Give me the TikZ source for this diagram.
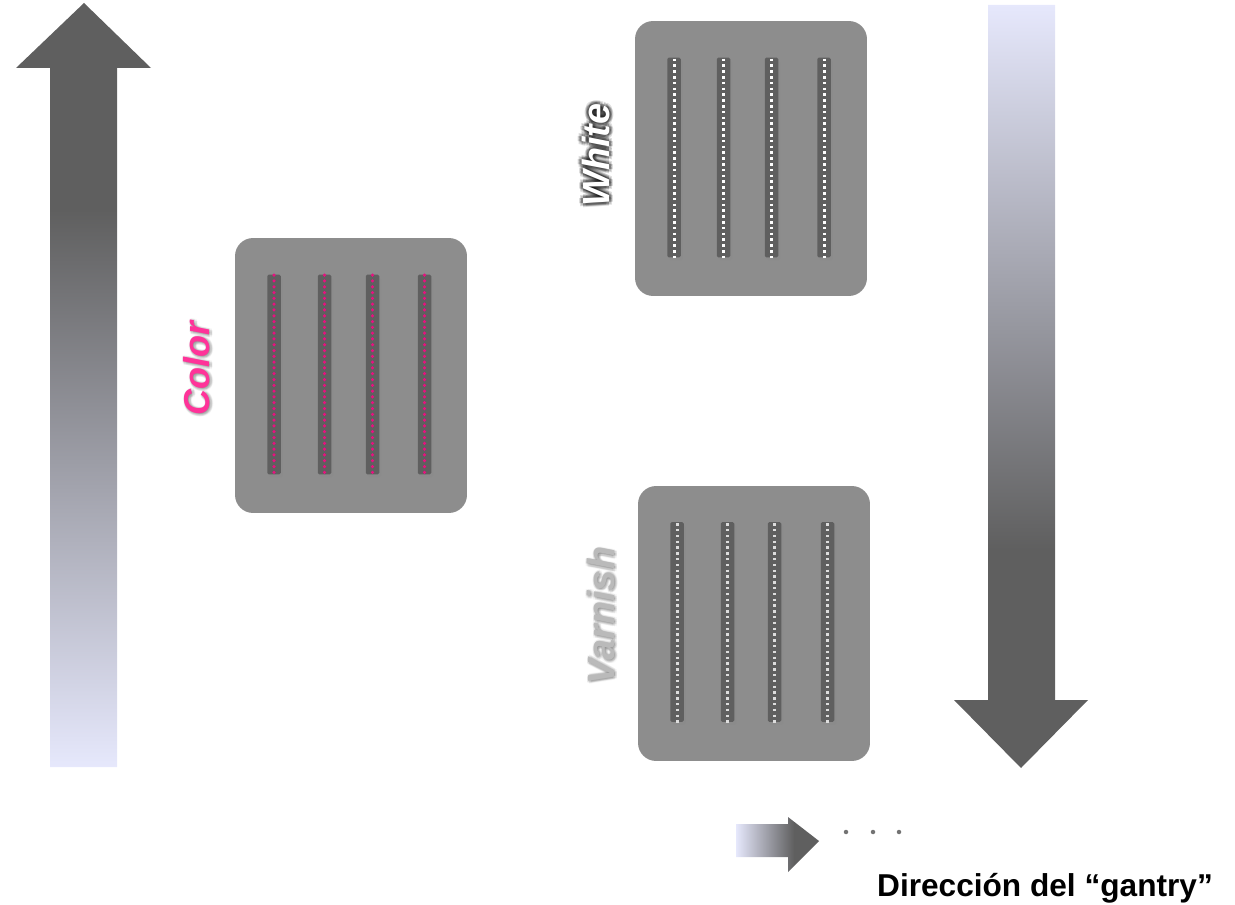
\documentclass[tikz,border=0pt]{standalone}
\usepackage{fontspec}
\setmainfont{Liberation Sans}
\usepackage{xcolor}
\usetikzlibrary{positioning,shadows}
\definecolor{panelgray}{HTML}{8D8D8D}
\definecolor{stripgray}{HTML}{5F5F5F}
\definecolor{palelilac}{HTML}{E6E8FC}
\definecolor{inkpink}{HTML}{E8107F}
\definecolor{labelpink}{HTML}{FF3399}
\pgfdeclareverticalshading{fadeup}{100bp}{color(0bp)=(palelilac); color(25bp)=(palelilac); color(61.5bp)=(stripgray); color(100bp)=(stripgray)}
\pgfdeclareverticalshading{fadedown}{100bp}{color(0bp)=(stripgray); color(39.3bp)=(stripgray); color(75bp)=(palelilac); color(100bp)=(palelilac)}
\pgfdeclarehorizontalshading{faderight}{100bp}{color(0bp)=(palelilac); color(25bp)=(palelilac); color(60bp)=(stripgray); color(100bp)=(stripgray)}

\begin{document}
\begin{tikzpicture}[
  x=0.02cm, y=-0.02cm,
  panel/.style={fill=panelgray, rounded corners=0.36cm, minimum width=4.64cm, minimum height=5.5cm, inner sep=0pt},
  strip/.style={fill=stripgray, rounded corners=0.03cm, minimum width=0.27cm, minimum height=4cm, inner sep=0pt,
    drop shadow={opacity=0.08, shadow xshift=0.04cm, shadow yshift=-0.06cm}},
  nozzles/.style={line width=0.06cm, dash pattern=on 0.05cm off 0.066cm},
  inkdots/.style={line width=0.07cm, line cap=round, dash pattern=on 0pt off 0.116cm},
  headlabel/.style={rotate=90, font=\bfseries\itshape\fontsize{21.5}{21.5}\selectfont},
  gantry/.style={font=\bfseries\fontsize{18}{20}\selectfont}
]
\useasboundingbox (0,0) rectangle (1235,905);

% travel arrows
\path[shading=fadeup] (50,767) -- (50,68) -- (16,68) -- (84,3) -- (151,68) -- (117,68) -- (117,767) -- cycle;
\path[shading=fadedown] (988,5) -- (988,700) -- (954,700) -- (1021,768) -- (1088,700) -- (1055,700) -- (1055,5) -- cycle;

% print heads
\node[panel] (colorhead) at (351,375.5) {};
\node[panel] (whitehead) at (751,158.5) {};
\node[panel] (varnishhead) at (754,623.5) {};

\foreach \n/\x in {1/274, 2/324.5, 3/372.5, 4/424.5} {
  \node[strip] (colorstrip\n) at (\x,374.5) {};
  \draw[inkdots, inkpink] ([yshift=-0.02cm]colorstrip\n.north) -- ([yshift=-0.06cm]colorstrip\n.south);
}
\foreach \n/\x in {1/674, 2/723.5, 3/771.5, 4/824} {
  \node[strip] (whitestrip\n) at (\x,157.5) {};
  \draw[nozzles, white] ([yshift=-0.03cm]whitestrip\n.north) -- ([yshift=-0.02cm]whitestrip\n.south);
}
\foreach \n/\x in {1/677, 2/727.5, 3/774.5, 4/827.5} {
  \node[strip] (varnishstrip\n) at (\x,622) {};
  \draw[nozzles, white!70!panelgray] ([yshift=-0.03cm]varnishstrip\n.north) -- ([yshift=-0.02cm]varnishstrip\n.south);
}

% head labels
\foreach \dx/\dy in {-2/0, 2/0, 0/-2, 0/2, -2/-2, 2/2, -2/2, 2/-2, 3/0, 0/3, -3/0, 0/-3, 3/3, -3/-3, 3/-3, -3/3, 4/0, 0/4, -4/0, 0/-4} {
  \node[headlabel, text=black, text opacity=0.13] at (596+\dx,155+\dy) {White};
  \node[headlabel, font=\bfseries\itshape\fontsize{20.5}{20.5}\selectfont, text=black, text opacity=0.03] at (197+\dx*0.6+1,368.5+\dy*0.6+1) {Color};
  \node[headlabel, text=black, text opacity=0.03] at (601+\dx*0.6+1,615.5+\dy*0.6+1) {Varnish};
}
\node[headlabel, text=white] (whitelabel) at (596,155) {White};
\node[headlabel, font=\bfseries\itshape\fontsize{20.5}{20.5}\selectfont, text=labelpink] (colorlabel) at (197,368.5) {Color};
\node[headlabel, text=black!27] (varnishlabel) at (601,615.5) {Varnish};

% gantry direction
\path[shading=faderight] (736,824) -- (788,824) -- (788,817) -- (819,841) -- (788,872) -- (788,857) -- (736,857) -- cycle;
\foreach \x in {846,873,899} \fill[black!55] (\x,832) circle (0.045cm);
\node[gantry, anchor=base] (gantrytext) at (1045,896) {Dirección del “gantry”};
\end{tikzpicture}
\end{document}
